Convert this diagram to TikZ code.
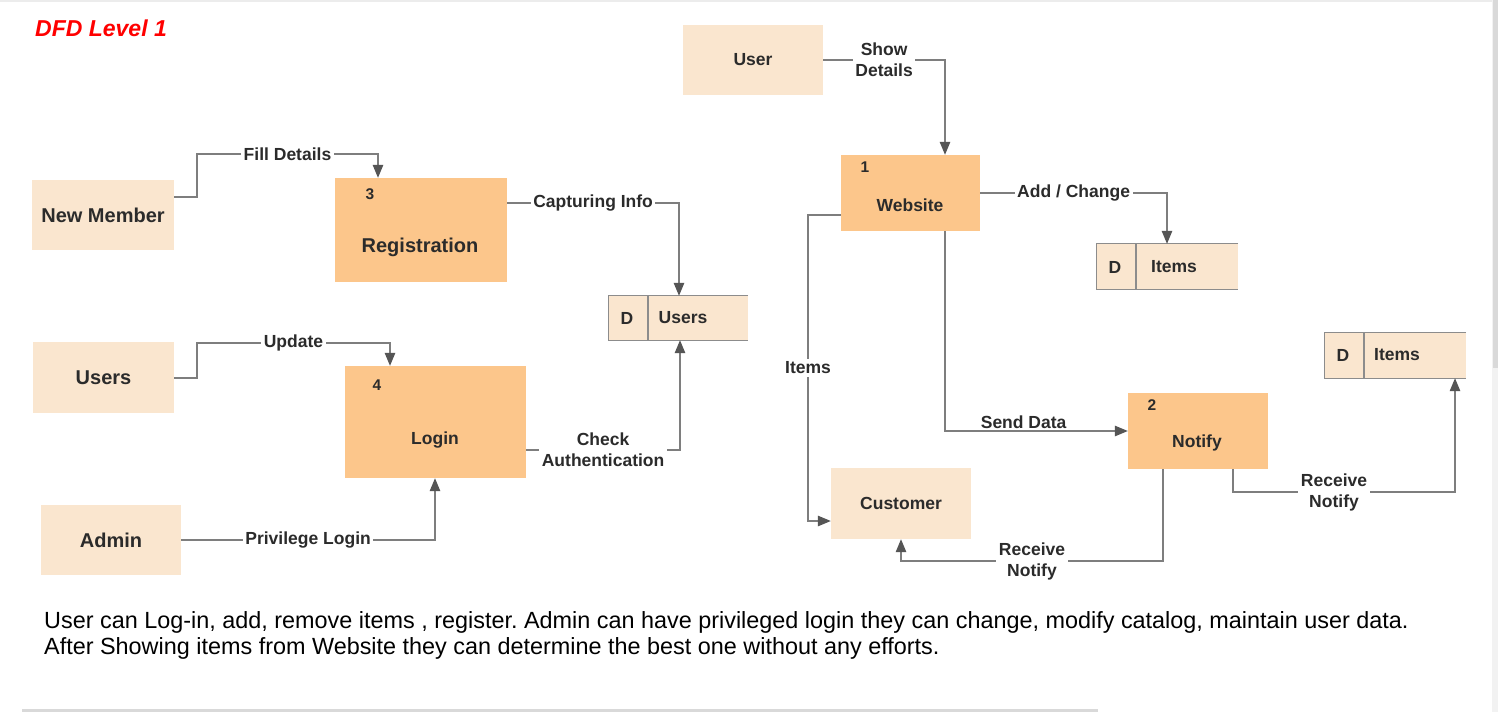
\documentclass[tikz,border=0pt]{standalone}
\usepackage{fontspec}
\setmainfont{Liberation Sans}
\usetikzlibrary{arrows.meta}
\definecolor{extc}{HTML}{FAE6CF}
\definecolor{procc}{HTML}{FCC68B}
\definecolor{lnc}{HTML}{7E7E7E}
\definecolor{tipc}{HTML}{555555}
\definecolor{txtc}{HTML}{2B2B2B}
\definecolor{storeln}{HTML}{8C8C8C}
\newcommand\lblfont{\fontsize{17.5}{21}\selectfont\bfseries}
\newcommand\bigfont{\fontsize{20}{24}\selectfont\bfseries}
\newcommand\numfont{\fontsize{15.5}{18}\selectfont\bfseries}
\frenchspacing
\begin{document}
\begin{tikzpicture}[x=1pt,y=-1pt,
  extbox/.style={fill=extc, draw=none, inner sep=0pt, text=txtc},
  procbox/.style={fill=procc, draw=none, inner sep=0pt},
  storebox/.style={fill=extc, draw=none, inner sep=0pt},
  storeline/.style={draw=storeln, line width=1.3pt},
  txt/.style={text=txtc, inner sep=0pt, font=\lblfont},
  num/.style={text=txtc, inner sep=0pt, font=\numfont},
  flow/.style={draw=lnc, line width=1.2pt, -{Triangle[length=13pt,width=10.5pt,color=tipc]}},
  lbl/.style={fill=white, inner sep=2.5pt, font=\lblfont, text=txtc, align=center}]
\useasboundingbox (0,0) rectangle (1498,712);
\fill[white] (0,0) rectangle (1498,712);
% window chrome
\fill[gray!15] (0,0) rectangle (1498,1.5);
\fill[gray!30] (22,709) rectangle (1098,712);
\fill[gray!10] (1492,0) rectangle (1498,712);
\fill[gray!30] (1493,0) rectangle (1498,368);

% title
\node[anchor=west, inner sep=0pt, text=red, font=\fontsize{23}{27}\selectfont\bfseries\itshape] (title) at (35,28) {DFD Level 1};

% external entities
\node[extbox, minimum width=142pt, minimum height=70pt, font=\bigfont] (nm) at (103,215) {New Member};
\node[extbox, minimum width=141pt, minimum height=71pt, font=\bigfont] (users) at (103.5,377.5) {Users};
\node[extbox, minimum width=140pt, minimum height=70pt, font=\bigfont] (admin) at (111,540) {Admin};
\node[extbox, minimum width=140pt, minimum height=70pt, font=\lblfont] (user) at (753,60) {User};
\node[extbox, minimum width=140pt, minimum height=71pt, font=\lblfont] (customer) at (901,503.5) {Customer};

% processes
\node[procbox, minimum width=172pt, minimum height=104pt] (reg) at (421,230) {};
\node[txt, font=\bigfont] (regt) at (420,247) {Registration};
\node[num] (regn) at (370,194) {3};
\node[procbox, minimum width=181pt, minimum height=112pt] (login) at (435.5,422) {};
\node[txt] (logint) at (435,440) {Login};
\node[num] (loginn) at (377,385) {4};
\node[procbox, minimum width=139pt, minimum height=76pt] (web) at (910.5,193) {};
\node[txt] (webt) at (910,205) {Website};
\node[num] (webn) at (865,167) {1};
\node[procbox, minimum width=140pt, minimum height=76pt] (notify) at (1198,431) {};
\node[txt] (notifyt) at (1197,443) {Notify};
\node[num] (notifyn) at (1152,405) {2};

% data stores
\node[storebox, minimum width=139pt, minimum height=44pt] (ustore) at (678.5,318) {};
\draw[storeline] (ustore.north east) -- (ustore.north west) -- (ustore.south west) -- (ustore.south east);
\draw[storeline] (648,296) -- (648,340);
\node[txt] (ustored) at (627,318) {D};
\node[txt] (ustoret) at (683,318) {Users};

\node[storebox, minimum width=141pt, minimum height=45pt] (items1) at (1167.5,266.5) {};
\draw[storeline] (items1.north east) -- (items1.north west) -- (items1.south west) -- (items1.south east);
\draw[storeline] (1136,244) -- (1136,289);
\node[txt] (items1d) at (1115,267) {D};
\node[txt] (items1t) at (1174,267) {Items};

\node[storebox, minimum width=141pt, minimum height=45pt] (items2) at (1395.5,355.5) {};
\draw[storeline] (items2.north east) -- (items2.north west) -- (items2.south west) -- (items2.south east);
\draw[storeline] (1364,333) -- (1364,378);
\node[txt] (items2d) at (1343,355) {D};
\node[txt] (items2t) at (1397,355) {Items};

% flows
\draw[flow] (nm.east |- 0,197) -- (197,197) -- (197,154) -- node[lbl]{Fill Details} (378,154) -- (reg.north -| 378,0);
\draw[flow] (reg.east |- 0,203) -- node[lbl]{Capturing Info} (679,203) -- (ustore.north -| 679,0);
\draw[flow] (users.east |- 0,378) -- (197,378) -- (197,343) -- node[lbl]{Update} (390,343) -- (login.north -| 390,0);
\draw[flow] (login.east |- 0,450) -- node[lbl]{Check\\Authentication} (680,450) -- (ustore.south -| 680,0);
\draw[flow] (admin.east) -- node[lbl]{Privilege Login} (435,540) -- (login.south -| 435,0);
\draw[flow] (user.east) -- node[lbl]{Show\\Details} (945,60) -- (web.north -| 945,0);
\draw[flow] (web.east) -- node[lbl]{Add / Change} (1167,193) -- (items1.north -| 1167,0);
\draw[flow] (web.west |- 0,215) -- (808,215) -- node[lbl]{Items} (808,521) -- (customer.west |- 0,521);
\draw[flow] (web.south -| 945,0) -- (945,431) -- node[pos=0.43, above, inner sep=2pt, font=\lblfont, text=txtc]{Send Data} (notify.west);
\draw[flow] (notify.south -| 1163,0) -- (1163,561) -- node[lbl]{Receive\\Notify} (901,561) -- (customer.south -| 901,0);
\draw[flow] (notify.south -| 1233,0) -- (1233,492) -- node[lbl, pos=0.455]{Receive\\Notify} (1455,492) -- (items2.south -| 1455,0);

% description
\node[anchor=base west, inner sep=0pt, text=black, font=\fontsize{23.4}{26}\selectfont] (para1) at (44,628) {User can Log-in, add, remove items , register. Admin can have privileged login they can change, modify catalog, maintain user data.};
\node[anchor=base west, inner sep=0pt, text=black, font=\fontsize{23.4}{26}\selectfont] (para2) at (44,654) {After Showing items from Website they can determine the best one without any efforts.};
\end{tikzpicture}
\end{document}
